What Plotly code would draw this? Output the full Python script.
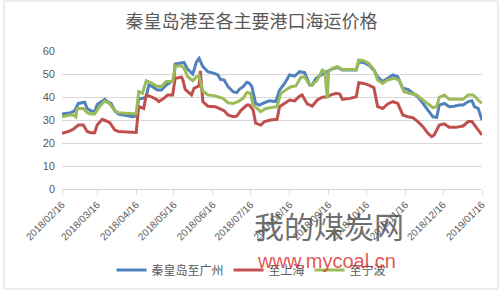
import plotly.graph_objects as go

# ---- data ----
gz_dates = ["2018-02-16","2018-02-23","2018-02-26","2018-03-01","2018-03-06","2018-03-08","2018-03-11","2018-03-14",
            "2018-03-16","2018-03-19","2018-03-22","2018-03-24","2018-03-27","2018-03-30","2018-04-02","2018-04-08",
            "2018-04-13","2018-04-16","2018-04-18","2018-04-21","2018-04-24","2018-04-26","2018-04-29","2018-05-03",
            "2018-05-06","2018-05-10","2018-05-14","2018-05-16","2018-05-17","2018-05-22","2018-05-24","2018-05-27",
            "2018-05-30","2018-05-31","2018-06-03","2018-06-05","2018-06-08","2018-06-12","2018-06-17","2018-06-20",
            "2018-06-22","2018-06-25","2018-06-28","2018-07-02","2018-07-05","2018-07-07","2018-07-10","2018-07-13",
            "2018-07-15","2018-07-17","2018-07-20","2018-07-23","2018-07-27","2018-07-31","2018-08-05","2018-08-08",
            "2018-08-12","2018-08-16","2018-08-20","2018-08-24","2018-08-28","2018-09-01","2018-09-03","2018-09-06",
            "2018-09-10","2018-09-13","2018-09-15","2018-09-18","2018-09-23","2018-09-27","2018-10-08","2018-10-10",
            "2018-10-14","2018-10-18","2018-10-22","2018-10-25","2018-10-29","2018-11-02","2018-11-06","2018-11-10",
            "2018-11-14","2018-11-18","2018-11-22","2018-11-26","2018-11-30","2018-12-04","2018-12-08","2018-12-11",
            "2018-12-13","2018-12-17","2018-12-21","2018-12-25","2018-12-29","2019-01-01","2019-01-05","2019-01-08",
            "2019-01-10","2019-01-13","2019-01-16"]
gz_vals = [32.6,33.2,34.0,37.2,37.7,35.0,34.0,33.6,
           36.8,38.0,39.0,38.0,37.2,34.0,32.6,32.0,
           31.4,31.7,39.4,39.4,40.0,45.2,44.5,43.0,
           43.0,45.2,46.7,47.4,54.3,54.6,55.0,52.0,
           50.3,50.0,55.4,56.8,53.2,51.0,50.3,49.6,
           47.7,47.4,44.5,42.3,41.9,43.3,44.5,46.4,
           46.0,44.5,37.2,36.5,37.5,38.4,38.0,43.0,
           45.9,49.6,49.1,51.0,50.6,45.2,45.2,48.1,
           49.6,50.3,51.0,52.0,52.9,51.7,51.7,55.4,
           54.9,53.9,51.7,48.8,46.7,48.1,49.6,48.8,
           43.8,43.3,41.6,40.1,37.2,34.3,31.4,31.2,
           36.5,37.2,35.8,36.0,36.5,36.5,38.0,38.4,
           35.8,35.0,30.0]

sh_dates = ["2018-02-16","2018-02-21","2018-02-25","2018-03-01","2018-03-05","2018-03-08","2018-03-11","2018-03-14",
            "2018-03-16","2018-03-20","2018-03-23","2018-03-26","2018-03-30","2018-04-02","2018-04-16","2018-04-18",
            "2018-04-22","2018-04-24","2018-04-28","2018-05-02","2018-05-04","2018-05-08","2018-05-11","2018-05-15",
            "2018-05-17","2018-05-22","2018-05-23","2018-05-25","2018-05-30","2018-06-01","2018-06-05","2018-06-06",
            "2018-06-08","2018-06-12","2018-06-18","2018-06-21","2018-06-25","2018-06-28","2018-07-02","2018-07-05",
            "2018-07-08","2018-07-13","2018-07-15","2018-07-18","2018-07-20","2018-07-24","2018-07-27","2018-08-01",
            "2018-08-06","2018-08-08","2018-08-12","2018-08-16","2018-08-20","2018-08-24","2018-08-26","2018-08-30",
            "2018-09-03","2018-09-07","2018-09-11","2018-09-15","2018-09-18","2018-09-22","2018-09-25","2018-09-27",
            "2018-10-03","2018-10-08","2018-10-10","2018-10-14","2018-10-18","2018-10-22","2018-10-25","2018-10-29",
            "2018-11-02","2018-11-06","2018-11-10","2018-11-14","2018-11-18","2018-11-22","2018-11-26","2018-11-30",
            "2018-12-04","2018-12-07","2018-12-09","2018-12-13","2018-12-17","2018-12-21","2018-12-26","2019-01-01",
            "2019-01-05","2019-01-08","2019-01-12","2019-01-16"]
sh_vals = [24.2,25.0,26.0,27.8,27.8,25.0,24.5,24.5,
           27.8,30.3,29.6,28.8,25.6,25.0,24.6,35.8,
           35.0,40.9,40.1,39.0,38.0,39.4,40.9,40.9,
           48.1,48.6,47.7,43.3,40.9,43.8,44.8,51.4,
           38.0,36.0,35.8,35.0,34.0,32.2,31.4,31.7,
           34.0,36.5,36.5,34.3,28.6,27.8,29.3,30.0,
           30.3,35.8,37.2,38.7,38.3,40.4,40.9,37.0,
           36.0,38.7,39.9,40.1,40.9,41.6,41.3,39.0,
           39.4,40.1,46.2,45.9,45.2,44.1,35.8,35.0,
           37.0,38.0,37.2,32.2,31.4,31.0,29.3,27.1,
           24.2,22.8,23.5,27.8,28.3,26.8,26.8,27.4,
           29.3,29.3,26.4,23.5]

nb_dates = ["2018-02-16","2018-02-22","2018-02-25","2018-02-27","2018-02-28","2018-03-05","2018-03-08","2018-03-11",
            "2018-03-14","2018-03-18","2018-03-22","2018-03-26","2018-03-30","2018-04-02","2018-04-08","2018-04-16",
            "2018-04-18","2018-04-21","2018-04-24","2018-04-28","2018-05-02","2018-05-06","2018-05-10","2018-05-15",
            "2018-05-17","2018-05-22","2018-05-24","2018-05-27","2018-05-31","2018-06-03","2018-06-05","2018-06-08",
            "2018-06-12","2018-06-17","2018-06-21","2018-06-24","2018-06-28","2018-07-02","2018-07-06","2018-07-10",
            "2018-07-13","2018-07-16","2018-07-18","2018-07-22","2018-07-24","2018-07-28","2018-08-02","2018-08-06",
            "2018-08-09","2018-08-13","2018-08-17","2018-08-21","2018-08-25","2018-08-28","2018-08-31","2018-09-03",
            "2018-09-07","2018-09-11","2018-09-13","2018-09-15","2018-09-16","2018-09-19","2018-09-23","2018-09-27",
            "2018-10-08","2018-10-10","2018-10-14","2018-10-18","2018-10-22","2018-10-25","2018-10-29","2018-11-02",
            "2018-11-07","2018-11-11","2018-11-15","2018-11-19","2018-11-25","2018-11-30","2018-12-04","2018-12-08",
            "2018-12-11","2018-12-13","2018-12-17","2018-12-21","2018-12-26","2019-01-01","2019-01-05","2019-01-09",
            "2019-01-13","2019-01-16"]
nb_vals = [31.4,32.2,32.2,31.4,35.0,35.0,33.2,32.6,
           32.6,36.0,38.3,37.0,34.0,33.2,32.9,32.6,
           42.3,41.6,47.1,46.2,44.8,44.5,46.7,46.7,
           53.5,53.5,52.5,48.8,47.1,48.8,49.3,42.6,
           40.9,40.6,39.9,39.4,37.5,37.2,38.0,39.4,
           42.0,41.6,36.5,34.3,33.6,35.0,35.4,35.8,
           41.6,43.0,44.5,44.8,48.6,48.8,45.9,45.2,
           47.4,51.7,51.0,39.4,51.0,52.5,53.2,52.0,
           52.0,56.1,55.8,54.6,52.0,47.4,45.9,47.4,
           48.1,47.4,42.3,41.6,40.9,38.7,37.2,35.4,
           35.8,39.9,40.9,39.0,39.0,39.0,40.9,40.9,
           38.7,37.2]

series_names = ["秦皇岛至广州", "至上海", "至宁波"]
series_colors = ["#4F81BD", "#C0504D", "#9BBB59"]
title_text = "秦皇岛港至各主要港口海运价格"
y_ticks = [0, 10, 20, 30, 40, 50, 60]

# ---- layout geometry (pixels) ----
W, H = 503, 293
PL, PR, PT, PB = 62, 482, 51, 189   # plot area edges


def px_x(x):
    return (x - PL) / (PR - PL)


def px_y(y):
    return (PB - y) / (PB - PT)


CJK = "Noto Sans CJK SC"
grey = "#595959"

fig = go.Figure()
for d, v, n, c in zip([gz_dates, sh_dates, nb_dates], [gz_vals, sh_vals, nb_vals],
                      series_names, series_colors):
    fig.add_trace(go.Scatter(x=d, y=v, name=n, mode="lines",
                             line=dict(color=c, width=3)))

fig.update_layout(
    width=W, height=H,
    margin=dict(l=PL, r=W - PR, t=PT, b=H - PB),
    paper_bgcolor="white", plot_bgcolor="white",
    font=dict(family=CJK, color=grey),
    title=dict(text=title_text, x=0.5, xanchor="center", xref="container",
               y=1 - 22 / H, yanchor="middle", yref="container",
               font=dict(size=18, color=grey, family=CJK)),
    showlegend=True,
    legend=dict(orientation="h", x=0.5, xanchor="center", xref="container",
                y=1 - 270 / H, yanchor="middle", yref="container",
                font=dict(size=12, color=grey, family=CJK),
                itemwidth=30, tracegroupgap=0, bgcolor="rgba(0,0,0,0)"),
    xaxis=dict(type="date", range=["2018-02-16", "2019-01-16"],
               tick0="2018-02-16", dtick="M1", tickformat="%Y/%m/%d",
               tickangle=-45, tickfont=dict(size=10, color=grey, family="Liberation Sans"),
               showgrid=False, showline=True, linecolor="#D9D9D9", linewidth=1,
               ticks="outside", ticklen=5, tickcolor="#D9D9D9", zeroline=False,
               fixedrange=True),
    yaxis=dict(range=[0, 60], tickvals=y_ticks, showgrid=True, gridcolor="#D9D9D9",
               gridwidth=1, zeroline=False, showline=False, ticks="",
               tickfont=dict(size=11, color=grey, family="Liberation Sans"),
               ticklabelstandoff=6, fixedrange=True),
)

# chart border
fig.add_shape(type="rect", xref="paper", yref="paper",
              x0=px_x(4), x1=px_x(498), y0=px_y(289), y1=px_y(1),
              line=dict(color="#D9D9D9", width=1), fillcolor="rgba(0,0,0,0)", layer="below")

# watermark
fig.add_annotation(text="我的煤炭网", xref="paper", yref="paper",
                   x=px_x(406), y=px_y(249), showarrow=False,
                   font=dict(size=30, color="rgba(85,85,85,0.85)", family=CJK))
fig.add_annotation(text="www.mycoal.cn", xref="paper", yref="paper",
                   x=px_x(398), y=px_y(274), showarrow=False,
                   font=dict(size=20, color="rgba(220,40,40,0.8)", family="Liberation Sans"))

fig.write_html("out.html")
